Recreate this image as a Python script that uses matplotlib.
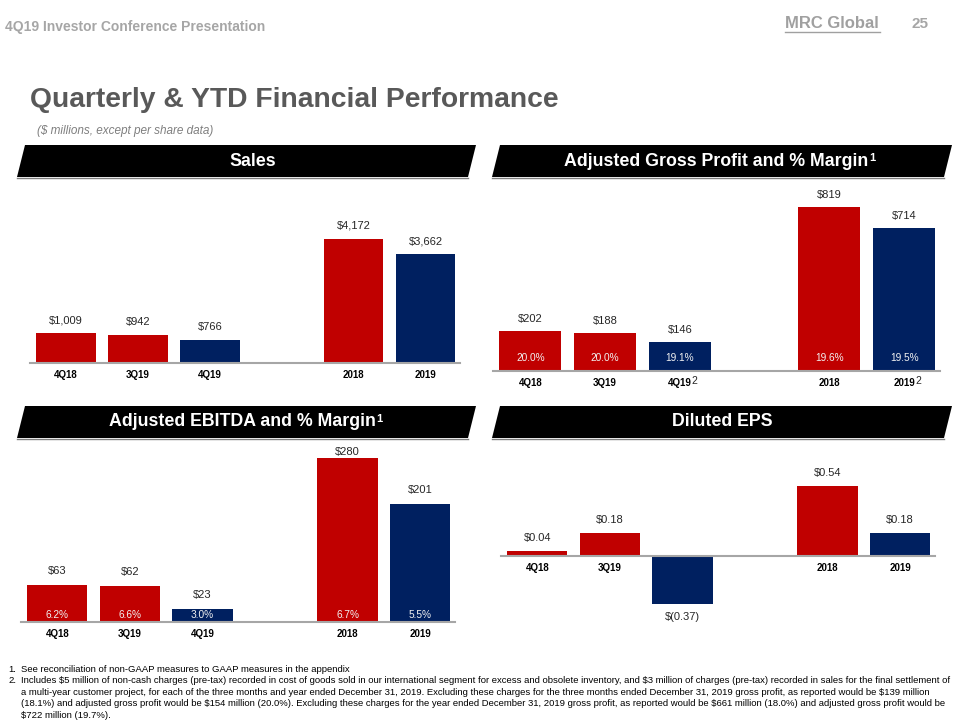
import matplotlib
matplotlib.use('Agg')
import matplotlib.pyplot as plt
from matplotlib import font_manager
from matplotlib.patches import Polygon

# ---- data ----
quarters = ['4Q18', '3Q19', '4Q19']
years = ['2018', '2019']
categories = quarters + years
sales = [1009, 942, 766, 4172, 3662]
gross_profit = [202, 188, 146, 819, 714]
gross_margin = [20.0, 20.0, 19.1, 19.6, 19.5]
ebitda = [63, 62, 23, 280, 201]
ebitda_margin = [6.2, 6.6, 3.0, 6.7, 5.5]
eps = [0.04, 0.18, -0.37, 0.54, 0.18]
is_2019 = [False, False, True, False, True]

footnotes = [
    ("1.", ["See reconciliation of non-GAAP measures to GAAP measures in the appendix"]),
    ("2.", [
        "Includes $5 million of non-cash charges (pre-tax) recorded in cost of goods sold in our international segment for excess and obsolete inventory, and $3 million of charges (pre-tax) recorded in sales for the final settlement of",
        "a multi-year customer project, for each of the three months and year ended December 31, 2019. Excluding these charges for the three months ended December 31, 2019 gross profit, as reported would be $139 million",
        "(18.1%) and adjusted gross profit would be $154 million (20.0%). Excluding these charges for the year ended December 31, 2019 gross profit, as reported would be $661 million (18.0%) and adjusted gross profit would be",
        "$722 million (19.7%).",
    ]),
]

RED = '#C00000'
NAVY = '#002060'
GREY = '#A6A6A6'

names = {f.name for f in font_manager.fontManager.ttflist}
NARROW = 'Liberation Sans Narrow' if 'Liberation Sans Narrow' in names else 'Liberation Sans'
plt.rcParams['font.family'] = [NARROW, 'DejaVu Sans']
plt.rcParams['text.parse_math'] = False

W, H = 960, 720
fig = plt.figure(figsize=(W / 100, H / 100), dpi=100)

# background axes in pixel coordinates
bg = fig.add_axes([0, 0, 1, 1])
bg.set_xlim(0, W)
bg.set_ylim(H, 0)
bg.axis('off')

bg.text(5, 27, '4Q19 Investor Conference Presentation', fontsize=10, fontweight='bold',
        color='#A6A6A6', va='center', ha='left')
bg.text(832, 24, 'MRC Global', fontsize=12, fontweight='bold', color='#A0A0A0',
        va='center', ha='center')
bg.plot([785, 880], [32, 32], color='#A0A0A0', lw=1)
bg.text(928, 24, '25', fontsize=11, fontweight='bold', color='#A6A6A6', va='center', ha='right')
bg.text(30, 100, 'Quarterly & YTD Financial Performance', fontsize=20.3, fontweight='bold',
        color='#595959', va='center', ha='left')
bg.text(37, 131, '($ millions, except per share data)', fontsize=8.5, style='italic',
        color='#7F7F7F', va='center', ha='left')


def banner(x0, x1, top, bottom, title, cx, sup=None):
    s = 8
    pts = [(x0, bottom), (x0 + s, top), (x1, top), (x1 - s, bottom)]
    bg.add_patch(Polygon(pts, closed=True, facecolor='black', edgecolor='none'))
    bg.plot([x0, x1 - s], [bottom + 0.5, bottom + 0.5], color='#7F7F7F', lw=1)
    t = bg.text(cx, (top + bottom) / 2, title, fontsize=12.8, fontweight='bold', color='white',
                ha='center', va='center')
    if sup:
        bg.annotate(sup, xy=(1, 1), xycoords=t, xytext=(0.5, -0.5), textcoords='offset points',
                    fontsize=8, fontweight='bold', color='white', ha='left', va='top')


banner(17, 476, 145, 177, 'Sales', 253)
banner(492, 952, 145, 177, 'Adjusted Gross Profit and % Margin', 716, '1')
banner(17, 476, 406, 438, 'Adjusted EBITDA and % Margin', 242, '1')
banner(492, 952, 406, 438, 'Diluted EPS', 722)

positions = list(range(len(quarters))) + [len(quarters) + 1 + i for i in range(len(years))]
colors = [NAVY if c else RED for c in is_2019]


def chart(left, right, top, bottom, base, scale, values, fmt, pct=None, pct_px=13,
          sup_at=(), label_px=13, clip_top=None):
    ax = fig.add_axes([left / W, 1 - bottom / H, (right - left) / W, (bottom - top) / H])
    ax.set_facecolor('none')
    ax.set_xlim(-0.5, 5.48)
    ax.set_ylim(-(bottom - base) / scale, (base - top) / scale)
    ax.bar(positions, values, width=0.83, color=colors, zorder=2)
    for s in ['top', 'right', 'left']:
        ax.spines[s].set_visible(False)
    ax.spines['bottom'].set_position(('data', 0))
    ax.spines['bottom'].set_color(GREY)
    ax.spines['bottom'].set_linewidth(1.5)
    ax.set_yticks([])
    ax.set_xticks(positions)
    ax.set_xticklabels(categories, fontsize=7, fontweight='bold')
    ax.tick_params(axis='x', length=0, pad=5)
    for x, v in zip(positions, values):
        if v >= 0:
            y_px = base - v * scale - label_px
            if clip_top is not None:
                y_px = max(y_px, clip_top)
            ax.text(x, (base - y_px) / scale, fmt(v), ha='center', va='center',
                    fontsize=8, color='#262626')
        else:
            ax.annotate(fmt(v), (x, v), xytext=(0, -6), textcoords='offset points',
                        ha='center', va='top', fontsize=8, color='#262626')
    if pct is not None:
        for x, p in zip(positions, pct):
            ax.annotate(f'{p:.1f}%', (x, 0), xytext=(0, pct_px * 0.72),
                        textcoords='offset points', ha='center', va='center',
                        fontsize=7.3, color='#F2F2F2', zorder=3)
    for i in sup_at:
        ax.annotate('2', (positions[i], 0), xytext=(10.5, -7), textcoords='offset points',
                    ha='center', va='center', fontsize=7.5, color='#262626')
    return ax


chart(30, 460, 190, 363, 363, 124 / 4172, sales, lambda v: f'${v:,}')
chart(493, 940, 185, 371, 371, 164 / 819, gross_profit, lambda v: f'${v}',
      pct=gross_margin, pct_px=13, label_px=12, sup_at=(2, 4))
chart(21, 455, 440, 622, 622, 164 / 280, ebitda, lambda v: f'${v}',
      pct=ebitda_margin, pct_px=7, label_px=14, clip_top=452)
chart(501, 935, 450, 625, 556, 70 / 0.54, eps,
      lambda v: f'${v:.2f}' if v >= 0 else f'$({abs(v):.2f})')

y = 669
for num, lines in footnotes:
    bg.text(8, y, num, fontsize=6.8, color='black', va='center', ha='left')
    for line in lines:
        bg.text(21, y, line, fontsize=6.8, color='black', va='center', ha='left')
        y += 11.6

fig.savefig('out.png', dpi=100)
